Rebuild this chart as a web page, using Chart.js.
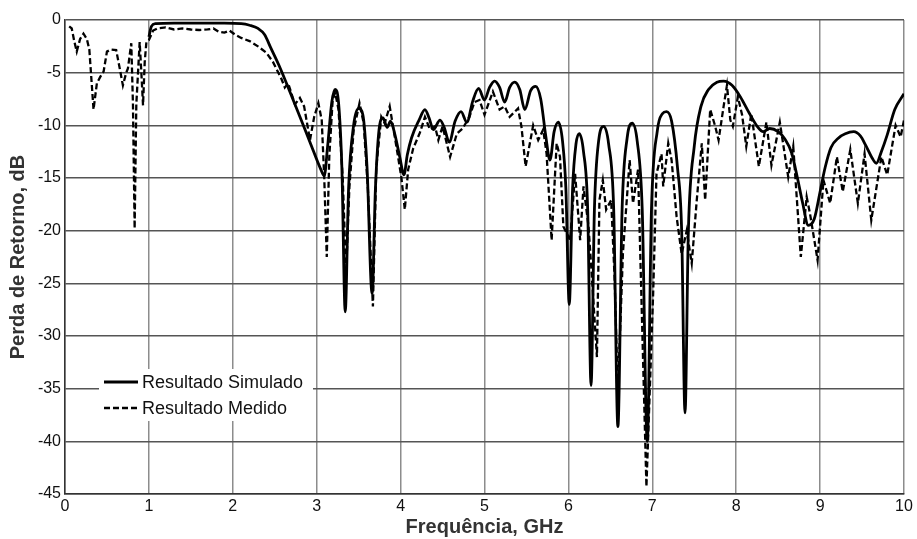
<!DOCTYPE html>
<html>
<head>
<meta charset="utf-8">
<script src="https://cdn.jsdelivr.net/npm/chart.js@4.4.1/dist/chart.umd.min.js"></script>
<style>
  html, body { margin: 0; padding: 0; background: #fff; }
  #box { width: 917px; height: 539px; }
</style>
</head>
<body>
<div id="box"><canvas id="grafico"></canvas></div>
<script>
// Resultado simulado (linha cheia)
const simFreq = [1.0, 1.03, 1.08, 1.3, 1.6, 1.9, 2.1, 2.2, 2.3, 2.38, 2.45, 2.55, 2.72, 2.92, 3.05, 3.09, 3.13, 3.18, 3.22, 3.26,
  3.3, 3.34, 3.38, 3.44, 3.5, 3.55, 3.6, 3.66, 3.7, 3.75, 3.79, 3.84, 3.88, 3.93, 3.99, 4.04, 4.08, 4.13, 4.22, 4.29,
  4.34, 4.39, 4.47, 4.52, 4.58, 4.65, 4.72, 4.79, 4.86, 4.93, 5.0, 5.06, 5.12, 5.18, 5.24, 5.3, 5.36, 5.42, 5.48, 5.55,
  5.61, 5.67, 5.73, 5.78, 5.83, 5.88, 5.93, 5.97, 6.01, 6.05, 6.09, 6.13, 6.18, 6.23, 6.27, 6.31, 6.36, 6.42, 6.48, 6.54,
  6.59, 6.64, 6.7, 6.76, 6.82, 6.88, 6.94, 6.99, 7.06, 7.12, 7.17, 7.23, 7.3, 7.35, 7.39, 7.43, 7.5, 7.58, 7.67, 7.77,
  7.85, 7.95, 8.05, 8.16, 8.26, 8.32, 8.4, 8.5, 8.58, 8.66, 8.73, 8.79, 8.86, 8.93, 9.0, 9.06, 9.13, 9.22, 9.3, 9.4,
  9.48, 9.55, 9.62, 9.67, 9.73, 9.8, 9.89, 10.0];
const simPerda = [-1.6, -0.6, -0.35, -0.3, -0.3, -0.3, -0.35, -0.5, -0.8, -1.4, -2.6, -4.3, -7.6, -11.6, -14.2, -14.8, -12, -7.8, -6.6, -7.8,
  -14, -27.7, -16, -10, -8.4, -9, -14, -26, -16, -10, -9.3, -10.2, -9.6, -10.8, -13, -14.7, -12.8, -11.2, -9.5, -8.5,
  -9.3, -10.4, -9.5, -10.2, -11.6, -9.6, -8.7, -9.7, -7.7, -6.5, -7.6, -6.4, -5.8, -6.4, -7.8, -6.4, -5.9, -6.6, -8.5, -6.7,
  -6.3, -7.5, -11, -13.3, -10.6, -9.7, -11.5, -16, -27, -16, -11.8, -10.8, -12.5, -18, -34.7, -18, -11.5, -10.1, -11.8, -18,
  -38.6, -18, -11.2, -9.8, -11.5, -18, -40, -18, -10.5, -8.9, -8.7, -9.6, -14, -20, -37.3, -20, -12, -8.2, -6.6, -5.9,
  -5.8, -6.2, -7.3, -8.9, -10.2, -10.6, -10.3, -10.6, -11.3, -12.6, -15, -17.3, -19.5, -18.9, -16.3, -14, -12.1, -11.2, -10.8, -10.6,
  -11, -12, -13.1, -13.6, -12.5, -10.9, -8.5, -7.0];

// Resultado medido (tracejado)
const medFreq = [0.05, 0.08, 0.11, 0.14, 0.18, 0.22, 0.26, 0.29, 0.34, 0.38, 0.42, 0.46, 0.5, 0.55, 0.61, 0.65, 0.69, 0.73, 0.75, 0.79,
  0.81, 0.83, 0.85, 0.89, 0.91, 0.93, 0.95, 0.97, 1.0, 1.05, 1.1, 1.2, 1.3, 1.4, 1.5, 1.6, 1.7, 1.77, 1.83, 1.9,
  1.96, 2.03, 2.1, 2.2, 2.3, 2.4, 2.48, 2.58, 2.62, 2.66, 2.7, 2.74, 2.8, 2.85, 2.92, 2.97, 3.02, 3.06, 3.09, 3.12,
  3.15, 3.19, 3.22, 3.26, 3.31, 3.35, 3.39, 3.44, 3.51, 3.56, 3.61, 3.67, 3.71, 3.77, 3.81, 3.87, 3.91, 3.97, 4.01, 4.05,
  4.09, 4.15, 4.23, 4.29, 4.35, 4.41, 4.45, 4.5, 4.59, 4.67, 4.74, 4.82, 4.88, 4.94, 5.0, 5.1, 5.18, 5.24, 5.3, 5.4,
  5.44, 5.49, 5.58, 5.64, 5.7, 5.74, 5.8, 5.86, 5.9, 5.94, 6.02, 6.08, 6.14, 6.18, 6.24, 6.28, 6.34, 6.37, 6.41, 6.45,
  6.51, 6.55, 6.59, 6.65, 6.73, 6.77, 6.83, 6.93, 7.01, 7.05, 7.11, 7.13, 7.19, 7.23, 7.29, 7.35, 7.41, 7.47, 7.53, 7.59,
  7.63, 7.69, 7.75, 7.79, 7.85, 7.89, 7.93, 7.96, 8.02, 8.07, 8.12, 8.18, 8.27, 8.36, 8.42, 8.52, 8.62, 8.68, 8.77, 8.84,
  8.88, 8.97, 9.04, 9.12, 9.2, 9.27, 9.36, 9.45, 9.53, 9.61, 9.73, 9.8, 9.9, 9.96, 10.0];
const medPerda = [-0.6, -0.8, -2.0, -3.0, -1.8, -1.3, -1.8, -2.8, -8.5, -6.0, -5.4, -4.9, -3.0, -2.8, -2.85, -4.5, -6.2, -5.0, -4.6, -2.2,
  -8, -19.8, -8, -2.1, -5, -8.1, -4, -2.1, -1.9, -1.0, -0.8, -0.7, -0.9, -0.8, -0.9, -0.95, -0.9, -0.8, -1.1, -1.2,
  -1.0, -1.4, -1.7, -2.0, -2.5, -3.1, -4.0, -5.6, -6.4, -6.0, -7.0, -8.0, -7.4, -8.2, -11.4, -9.2, -7.9, -9.5, -15, -22.5,
  -13, -7.6, -6.9, -8.5, -15, -24, -15.8, -10.5, -7.9, -9.8, -16, -27.2, -14, -9.2, -9.8, -8.2, -10.1, -13, -15, -18.0,
  -14.2, -12.2, -10.7, -9.2, -10.4, -10.1, -11.4, -10.1, -13, -10.8, -10.3, -9.2, -7.8, -7.6, -9.0, -6.8, -8.5, -8.2, -9.2, -8.4,
  -10.1, -13.9, -10.0, -11.4, -10.4, -12.7, -20.9, -11.7, -13, -19.6, -20.9, -14.6, -20.9, -15.8, -19.6, -24.4, -32, -17.1, -15.2, -18,
  -17.1, -24.4, -35.4, -22.1, -13.3, -17.4, -14.2, -44.3, -26, -14.6, -12.7, -15.8, -11.7, -13.3, -18.7, -22.2, -20, -23.1, -17.1, -11.7,
  -17.1, -8.5, -10.1, -11.4, -8.2, -6.2, -9.5, -10.1, -7.3, -9, -12, -8.9, -13.9, -9.7, -13.8, -9.7, -14.9, -12, -22.5, -16.8,
  -18.4, -22.8, -15.2, -17.4, -13, -16.3, -12.3, -17.4, -12.7, -19, -13, -14.7, -10, -11.1, -9.5];

const rotulos = ['Resultado Simulado', 'Resultado Medido'];
const fonte = '"Liberation Sans", Arial, sans-serif';

const simPontos = simFreq.map((f, i) => ({ x: f, y: simPerda[i] }));
const medPontos = medFreq.map((f, i) => ({ x: f, y: medPerda[i] }));

// legenda desenhada dentro da area do grafico, com fundo branco
const legendaInterna = {
  id: 'legendaInterna',
  afterDatasetsDraw(chart) {
    const c = chart.ctx;
    const a = chart.chartArea;
    const x0 = a.left + 39;
    const y0 = a.top + 362;
    c.save();
    c.fillStyle = '#fff';
    c.fillRect(x0 - 5, y0 - 13, 214, 52);
    c.strokeStyle = '#000';
    c.lineWidth = 2.8;
    c.beginPath();
    c.moveTo(x0, y0); c.lineTo(x0 + 34, y0);
    c.stroke();
    c.lineWidth = 2.3;
    c.setLineDash([6, 3]);
    c.beginPath();
    c.moveTo(x0, y0 + 26); c.lineTo(x0 + 34, y0 + 26);
    c.stroke();
    c.setLineDash([]);
    c.fillStyle = '#111';
    c.font = '18px ' + fonte;
    c.textBaseline = 'middle';
    c.fillText(rotulos[0], x0 + 38, y0 + 1);
    c.fillText(rotulos[1], x0 + 38, y0 + 27);
    c.restore();
  }
};

const ctx = document.getElementById('grafico').getContext('2d');

new Chart(ctx, {
  type: 'line',
  data: {
    datasets: [{
      label: rotulos[0],
      data: simPontos,
      borderColor: '#000',
      borderWidth: 2.8,
      pointRadius: 0,
      cubicInterpolationMode: 'monotone'
    }, {
      label: rotulos[1],
      data: medPontos,
      borderColor: '#000',
      borderWidth: 2.3,
      borderDash: [6, 3],
      pointRadius: 0,
      tension: 0
    }]
  },
  options: {
    responsive: true,
    maintainAspectRatio: false,
    animation: false,
    layout: { padding: { top: 20, right: 13, left: 0, bottom: 0 } },
    plugins: {
      legend: { display: false },
      tooltip: { enabled: false }
    },
    scales: {
      x: {
        type: 'linear',
        min: 0,
        max: 10,
        afterFit: s => { s.height = 45; },
        border: { color: '#333', width: 1.5 },
        grid: { color: '#8c8c8c', lineWidth: 1.5, drawTicks: false },
        ticks: { stepSize: 1, padding: 3, color: '#111', maxRotation: 0, font: { family: fonte, size: 16 } },
        title: { display: true, text: 'Frequência, GHz', color: '#333', padding: 0, font: { family: fonte, size: 20, weight: 'bold' } }
      },
      y: {
        min: -45,
        max: 0,
        afterFit: s => { s.width = 65; },
        border: { color: '#333', width: 1.5 },
        grid: { color: '#555', lineWidth: 1.5, drawTicks: false },
        ticks: { stepSize: 5, padding: 4, color: '#111', font: { family: fonte, size: 16 } },
        title: { display: true, text: 'Perda de Retorno, dB', color: '#333', padding: { top: 6, bottom: 0 }, font: { family: fonte, size: 20, weight: 'bold' } }
      }
    }
  },
  plugins: [legendaInterna]
});
</script>
</body>
</html>
